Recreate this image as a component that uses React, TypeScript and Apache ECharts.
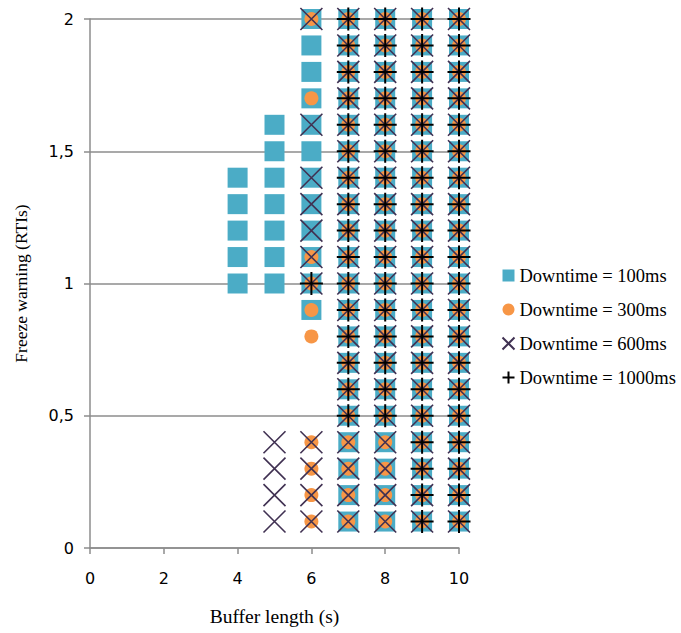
import React, { useEffect, useRef } from "react";
import * as echarts from "echarts";

// Y values used in the grid (freeze warning, RTTs)
const ALL_Y = [0.1, 0.2, 0.3, 0.4, 0.5, 0.6, 0.7, 0.8, 0.9, 1.0, 1.1, 1.2, 1.3, 1.4, 1.5, 1.6, 1.7, 1.8, 1.9, 2.0];
const UPPER_Y = [0.5, 0.6, 0.7, 0.8, 0.9, 1.0, 1.1, 1.2, 1.3, 1.4, 1.5, 1.6, 1.7, 1.8, 1.9, 2.0];
const LOW_Y = [0.1, 0.2, 0.3, 0.4];

// Downtime = 100ms (squares): [buffer length, y list]
const DT100: [number, number[]][] = [
  [4, [1.0, 1.1, 1.2, 1.3, 1.4]],
  [5, [1.0, 1.1, 1.2, 1.3, 1.4, 1.5, 1.6]],
  [6, [0.9, 1.0, 1.1, 1.2, 1.3, 1.4, 1.5, 1.6, 1.7, 1.8, 1.9, 2.0]],
  [7, ALL_Y],
  [8, ALL_Y],
  [9, ALL_Y],
  [10, ALL_Y],
];
// Downtime = 300ms (circles)
const DT300: [number, number[]][] = [
  [6, [0.1, 0.2, 0.3, 0.4, 0.8, 0.9, 1.0, 1.1, 1.7, 2.0]],
  [7, ALL_Y],
  [8, ALL_Y],
  [9, ALL_Y],
  [10, ALL_Y],
];
// Downtime = 600ms (crosses)
const DT600: [number, number[]][] = [
  [5, LOW_Y],
  [6, [0.1, 0.2, 0.3, 0.4, 1.0, 1.1, 1.2, 1.3, 1.4, 1.6, 2.0]],
  [7, ALL_Y],
  [8, ALL_Y],
  [9, ALL_Y],
  [10, ALL_Y],
];
// Downtime = 1000ms (plus)
const DT1000: [number, number[]][] = [
  [6, [1.0]],
  [7, UPPER_Y],
  [8, UPPER_Y],
  [9, ALL_Y],
  [10, ALL_Y],
];

const SERIES_NAMES = ["Downtime = 100ms", "Downtime = 300ms", "Downtime = 600ms", "Downtime = 1000ms"];
const X_TICKS = [0, 2, 4, 6, 8, 10];
const Y_TICKS = [0, 0.5, 1, 1.5, 2];

const toPoints = (cols: [number, number[]][]) =>
  cols.flatMap(([x, ys]) => ys.map((y) => [x, y]));

const CROSS = "path://M0,0L10,10M10,0L0,10";
const PLUS = "path://M5,0L5,10M0,5L10,5";

export default function App() {
  const ref = useRef<HTMLDivElement>(null);
  useEffect(() => {
    if (!ref.current) return;
    const chart = echarts.init(ref.current, null, { renderer: "svg" });
    const serif = "'Liberation Serif', 'Times New Roman', serif";
    const sans = "'DejaVu Sans', sans-serif";
    chart.setOption({
      animation: false,
      backgroundColor: "#ffffff",
      grid: { left: 90, top: 19, right: 222, bottom: 85, containLabel: false, outerBoundsMode: "none" },
      legend: {
        orient: "vertical",
        left: 495,
        top: 261,
        padding: 5,
        itemWidth: 12,
        itemHeight: 12,
        itemGap: 15,
        data: SERIES_NAMES,
        textStyle: { fontFamily: serif, fontSize: 18.5, color: "#000" },
      },
      xAxis: {
        type: "value",
        min: X_TICKS[0],
        max: X_TICKS[X_TICKS.length - 1],
        interval: 2,
        name: "Buffer length (s)",
        nameLocation: "middle",
        nameGap: 58,
        nameTextStyle: { fontFamily: serif, fontSize: 19.5, color: "#000" },
        axisLine: { show: true, lineStyle: { color: "#8c8c8c", width: 1.5 } },
        axisTick: { show: true, length: 6, lineStyle: { color: "#8c8c8c", width: 1.5 } },
        axisLabel: { fontFamily: sans, fontSize: 16, color: "#000", margin: 22 },
        splitLine: { show: false },
      },
      yAxis: {
        type: "value",
        min: Y_TICKS[0],
        max: Y_TICKS[Y_TICKS.length - 1],
        interval: 0.5,
        name: "Freeze warning (RTIs)",
        nameLocation: "middle",
        nameGap: 60,
        nameTextStyle: { fontFamily: serif, fontSize: 17.5, color: "#000" },
        axisLine: { show: true, lineStyle: { color: "#8c8c8c", width: 1.5 } },
        axisTick: { show: true, length: 6, lineStyle: { color: "#8c8c8c", width: 1.5 } },
        axisLabel: {
          fontFamily: sans,
          fontSize: 16,
          color: "#000",
          margin: 16,
          formatter: (v: number) => String(v).replace(".", ","),
        },
        splitLine: { show: true, lineStyle: { color: "#8c8c8c", width: 1.5 } },
      },
      series: [
        {
          name: SERIES_NAMES[0],
          type: "scatter",
          clip: false,
          symbol: "rect",
          symbolSize: 20,
          itemStyle: { color: "#4BACC6", opacity: 1 },
          data: toPoints(DT100),
        },
        {
          name: SERIES_NAMES[1],
          type: "scatter",
          clip: false,
          symbol: "circle",
          symbolSize: 14,
          itemStyle: { color: "#F79646", opacity: 1 },
          data: toPoints(DT300),
        },
        {
          name: SERIES_NAMES[2],
          type: "scatter",
          clip: false,
          symbol: CROSS,
          symbolSize: 22,
          itemStyle: { color: "none", borderColor: "#403152", borderWidth: 1.6, opacity: 1 },
          data: toPoints(DT600),
        },
        {
          name: SERIES_NAMES[3],
          type: "scatter",
          clip: false,
          symbol: PLUS,
          symbolSize: 23,
          itemStyle: { color: "none", borderColor: "#000000", borderWidth: 2, opacity: 1 },
          data: toPoints(DT1000),
        },
      ],
    });
    return () => chart.dispose();
  }, []);
  return <div ref={ref} style={{ width: 681, height: 633, position: "absolute", left: 0, top: 0 }} />;
}
